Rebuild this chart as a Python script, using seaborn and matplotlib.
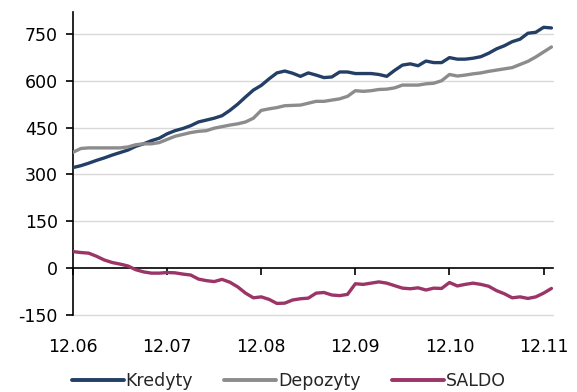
import numpy as np
import pandas as pd
import matplotlib.pyplot as plt
import seaborn as sns

# -----------------------------
# Data (monthly, 12.06 -> 01.12)
# -----------------------------
tick_labels = ["12.06", "12.07", "12.08", "12.09", "12.10", "12.11"]

kredyty = [322, 328, 336, 345, 353, 362, 370, 378, 390, 398, 408, 416,
           430, 440, 447, 456, 468, 474, 480, 488, 505, 525, 548, 570,
           585, 606, 625, 631, 624, 614, 625, 618, 610, 612, 628, 628,
           623, 623, 623, 620, 614, 633, 650, 654, 648, 663, 658, 658,
           674, 669, 669, 672, 677, 688, 702, 712, 725, 733, 752, 755,
           771, 769]

depozyty = [371, 383, 385, 385, 385, 385, 385, 388, 395, 398, 398, 402,
            412, 422, 428, 434, 438, 440, 448, 453, 458, 462, 468, 480,
            505, 510, 514, 520, 521, 522, 528, 534, 534, 538, 542, 550,
            568, 566, 568, 572, 573, 577, 586, 586, 586, 590, 592, 600,
            620, 615, 618, 622, 625, 630, 634, 638, 642, 652, 662, 676,
            692, 708]

saldo = [53, 50, 48, 38, 26, 18, 13, 7, -5, -12, -16, -16,
         -14, -15, -19, -22, -35, -40, -43, -36, -45, -60, -80, -95,
         -92, -100, -113, -112, -102, -98, -96, -80, -78, -86, -88, -84,
         -50, -52, -48, -44, -48, -56, -64, -66, -63, -70, -64, -65,
         -46, -57, -52, -48, -52, -58, -72, -82, -95, -92, -97, -92,
         -80, -65]

series_names = ["Kredyty", "Depozyty", "SALDO"]
colors = ["#243F66", "#8C8C8C", "#9B3467"]

months = np.arange(len(kredyty))
df = pd.DataFrame({
    "month": np.tile(months, 3),
    "value": kredyty + depozyty + saldo,
    "series": np.repeat(series_names, len(months)),
})

# -----------------------------
# Plot
# -----------------------------
sns.set_style("white")
plt.rcParams["font.family"] = ["DejaVu Sans"]

fig = plt.figure(figsize=(5.77, 3.92), dpi=100)
ax = fig.add_axes([73 / 577, 1 - 315 / 392, 480 / 577, 303 / 392])

yticks = [-150, 0, 150, 300, 450, 600, 750]
for yt in yticks:
    if yt != 0:
        ax.axhline(yt, color="#D9D9D9", lw=1.0, zorder=0, clip_on=False)

sns.lineplot(data=df, x="month", y="value", hue="series",
             palette=dict(zip(series_names, colors)),
             linewidth=2.4, ax=ax, legend=False, zorder=3)

ax.set_xlim(0, 61.2)
ax.set_ylim(-150, 820)
ax.set_yticks(yticks)
ax.set_yticklabels([str(v) for v in yticks])
ax.set_xticks(np.arange(0, 61, 12))
ax.set_xticklabels(tick_labels)
ax.set_xlabel("")
ax.set_ylabel("")

for side in ["top", "right"]:
    ax.spines[side].set_visible(False)
ax.spines["left"].set_color("black")
ax.spines["left"].set_linewidth(1.2)
ax.spines["bottom"].set_position(("data", 0))
ax.spines["bottom"].set_color("black")
ax.spines["bottom"].set_linewidth(1.2)
ax.spines["bottom"].set_zorder(2)

ax.tick_params(axis="y", direction="out", length=5, width=1.2,
               labelsize=12.5, pad=6, left=True, colors="black")
ax.tick_params(axis="x", direction="out", length=5, width=1.2,
               labelsize=12.5, pad=45, bottom=True, colors="black")

handles = [plt.Line2D([], [], color=c, lw=2.8) for c in colors]
fig.legend(handles, series_names, loc="center",
           bbox_to_anchor=(0.5, 1 - 381 / 392), ncol=3, frameon=False,
           fontsize=12.5, handlelength=3.0, handletextpad=0.1,
           columnspacing=1.8, borderpad=0.2)

fig.savefig("out.png", dpi=100)
